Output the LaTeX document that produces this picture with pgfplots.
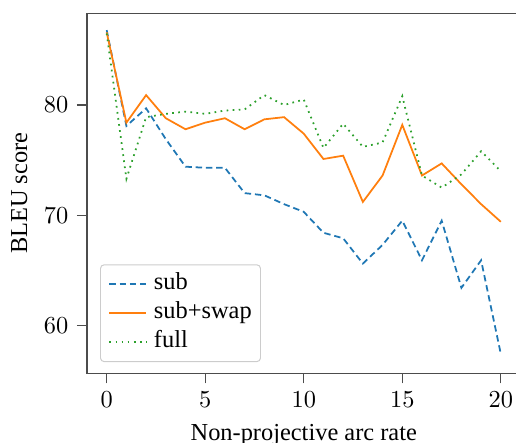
\documentclass[border=0pt]{standalone}
\usepackage{pgfplots}
\pgfplotsset{compat=1.18}
\usepackage{fontspec}
\setmainfont{Liberation Serif}
\usetikzlibrary{calc}
\definecolor{tabblue}{HTML}{1F77B4}
\definecolor{taborange}{HTML}{FF7F0E}
\definecolor{tabgreen}{HTML}{2CA02C}
\begin{document}
\begin{tikzpicture}
\begin{axis}[
  name=ax,
  scale only axis,
  width=177.74pt, height=147.6pt,
  xmin=-1, xmax=21, ymin=55.64, ymax=88.33,
  xtick={0,5,10,15,20}, ytick={60,70,80},
  xtick pos=left, ytick pos=left,
  tick align=outside,
  major tick length=4.1pt,
  axis line style={black!70, line width=0.5pt},
  every tick/.style={black!70, line width=0.5pt},
  tick label style={font=\fontsize{10}{12}\selectfont},
  xlabel={Non-projective arc rate},
  ylabel={BLEU score},
  label style={font=\fontsize{10}{12}\selectfont},
  legend cell align=left,
  legend style={at={(0.030,0.031)}, anchor=south west, draw=black!20, rounded corners=1.5pt,
    font=\fontsize{10}{12}\selectfont, inner xsep=3.3pt, inner ysep=2pt, row sep=0pt, column sep=2.4pt,
    nodes={inner xsep=0.3pt, inner ysep=0pt, text height=8.2pt, text depth=3.7pt}},
  legend image code/.code={\draw[#1] (0pt,0pt) -- (15.2pt,0pt);},
]
\addplot[tabblue, line width=0.72pt, dash pattern=on 2.6pt off 1.6pt] coordinates {
(0,86.8) (1,78.1) (2,79.7) (3,76.9) (4,74.4) (5,74.3) (6,74.3) (7,72.0) (8,71.8) (9,71.0) (10,70.3)
(11,68.4) (12,67.9) (13,65.6) (14,67.3) (15,69.5) (16,65.9) (17,69.5) (18,63.4) (19,65.9) (20,57.4)};
\addlegendentry{sub}
\addplot[taborange, line width=0.72pt] coordinates {
(0,86.6) (1,78.4) (2,80.9) (3,78.8) (4,77.8) (5,78.4) (6,78.8) (7,77.8) (8,78.7) (9,78.9) (10,77.4)
(11,75.1) (12,75.4) (13,71.2) (14,73.6) (15,78.2) (16,73.6) (17,74.7) (18,72.8) (19,71.0) (20,69.4)};
\addlegendentry{sub+swap}
\addplot[tabgreen, line width=0.72pt, dash pattern=on 0.7pt off 1.8pt] coordinates {
(0,86.5) (1,73.3) (2,78.9) (3,79.2) (4,79.4) (5,79.2) (6,79.5) (7,79.6) (8,80.9) (9,80.0) (10,80.5)
(11,76.1) (12,78.3) (13,76.2) (14,76.6) (15,80.8) (16,73.6) (17,72.5) (18,73.7) (19,75.8) (20,74.0)};
\addlegendentry{full}
\end{axis}
\pgfresetboundingbox
\path[use as bounding box] ($(ax.south west)+(-35.67pt,-28.58pt)$) rectangle ($(ax.south west)+(175.89pt,153.05pt)$);
\end{tikzpicture}
\end{document}
